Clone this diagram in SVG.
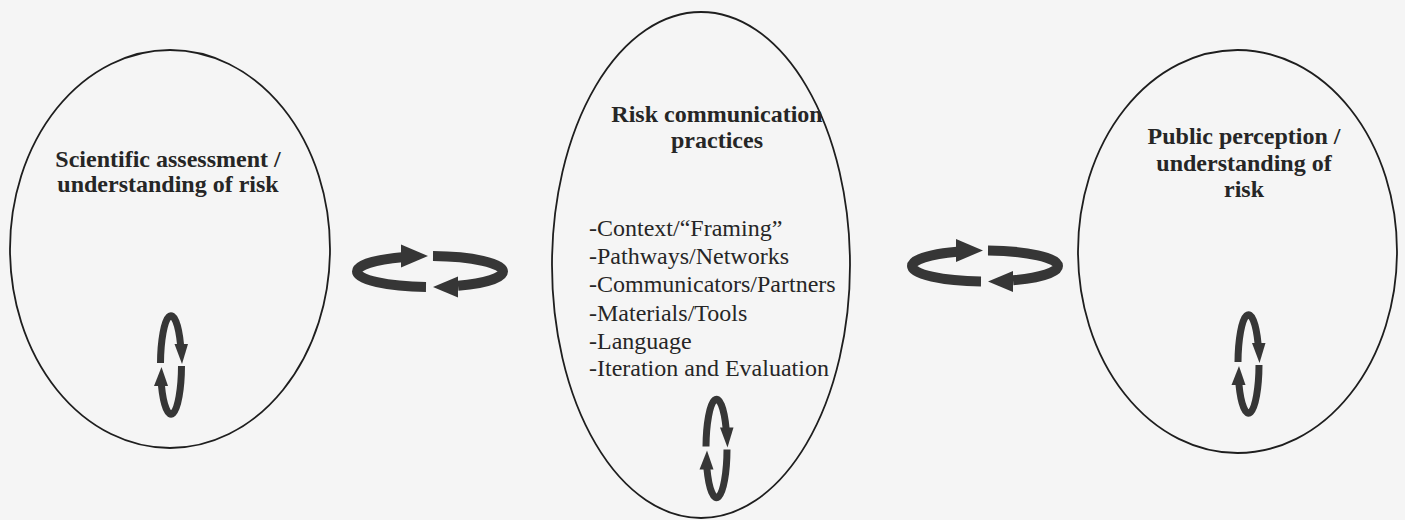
<svg xmlns="http://www.w3.org/2000/svg" width="1405" height="520" viewBox="0 0 1405 520">
  <defs>
    <style>
      .ell { fill: none; stroke: #1e1e1e; stroke-width: 1.8; }
      .title { font-family: "Liberation Serif", "Times New Roman", serif; font-weight: bold; font-size: 24px; fill: #262626; text-anchor: middle; }
      .item { font-family: "Liberation Serif", "Times New Roman", serif; font-size: 24px; fill: #262626; }
      .band { fill: none; stroke: #363636; }
      .head { fill: #363636; stroke: none; }
    </style>
    <g id="bigCycle">
      <path class="band" stroke-width="10" d="M -4 15.5 A 73 15.5 0 0 1 -73 0 A 73 15.5 0 0 1 -28 -14.3"/>
      <polygon class="head" points="-29,-27 -29,-4 -2,-15.5"/>
      <path class="band" stroke-width="10" d="M 3 -15.5 A 73 15.5 0 0 1 73 0 A 73 15.5 0 0 1 28 14.3"/>
      <polygon class="head" points="28,5 28,26 3,15.5"/>
    </g>
    <g id="smallCycle">
      <path class="band" stroke-width="7" d="M -10.5 -2 A 10.5 49 0 0 1 9.6 -20"/>
      <polygon class="head" points="3.5,-21 17,-21 11,-1"/>
      <path class="band" stroke-width="7" d="M 10.5 1 A 10.5 49 0 0 1 -9.6 20"/>
      <polygon class="head" points="-17,21 -3,21 -9.5,2"/>
    </g>
  </defs>
  <rect x="0" y="0" width="1405" height="520" fill="#f5f5f5"/>

  <g id="node-science">
    <ellipse class="ell" cx="170" cy="249" rx="160" ry="199"/>
    <text class="title" x="168" y="167">Scientific assessment /</text>
    <text class="title" x="168" y="192">understanding of risk</text>
    <use href="#smallCycle" x="171" y="365"/>
  </g>

  <g id="node-practices">
    <ellipse class="ell" cx="701" cy="265" rx="149" ry="253"/>
    <text class="title" x="717" y="122">Risk communication</text>
    <text class="title" x="717" y="148">practices</text>
    <text class="item" x="589" y="236">-Context/“Framing”</text>
    <text class="item" x="589" y="264">-Pathways/Networks</text>
    <text class="item" x="589" y="292">-Communicators/Partners</text>
    <text class="item" x="589" y="321">-Materials/Tools</text>
    <text class="item" x="589" y="349">-Language</text>
    <text class="item" x="589" y="376">-Iteration and Evaluation</text>
    <use href="#smallCycle" x="716.5" y="448.5"/>
  </g>

  <g id="node-public">
    <ellipse class="ell" cx="1237.5" cy="251.5" rx="159.5" ry="201.5"/>
    <text class="title" x="1244" y="144">Public perception /</text>
    <text class="title" x="1244" y="171">understanding of</text>
    <text class="title" x="1244" y="197">risk</text>
    <use href="#smallCycle" x="1248.5" y="364"/>
  </g>

  <g id="connectors">
    <use href="#bigCycle" x="430" y="271.5"/>
    <use href="#bigCycle" x="985" y="266"/>
  </g>
</svg>
